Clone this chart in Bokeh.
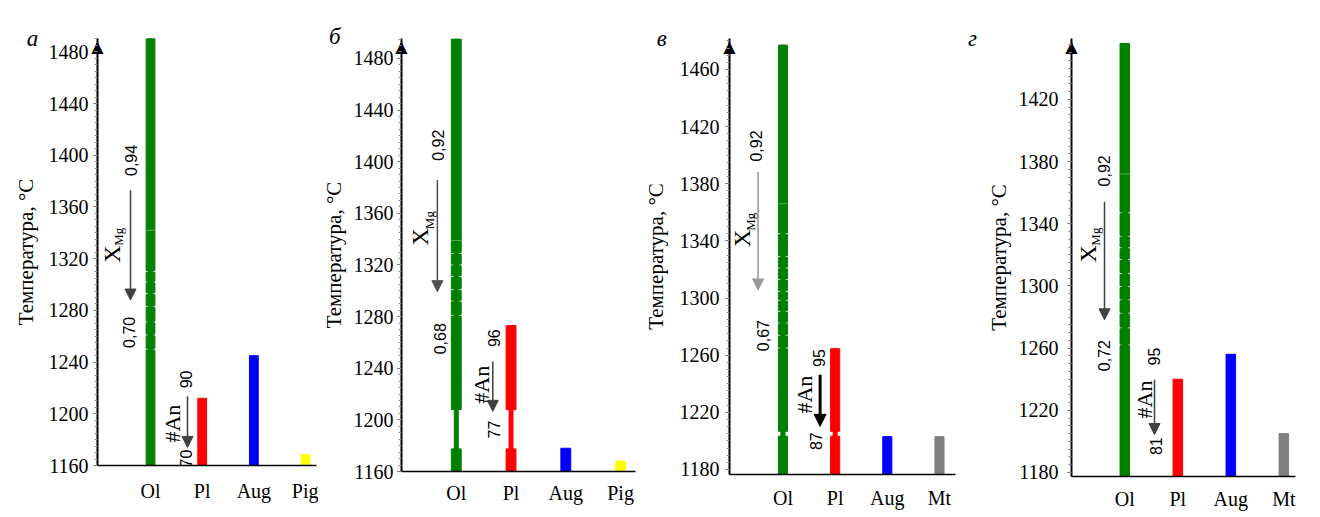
import math
from bokeh.plotting import figure
from bokeh.layouts import row
from bokeh.models import (FixedTicker, Arrow, NormalHead, Label, ColumnDataSource, Range1d,
                          LinearAxis)
from bokeh.core.properties import value
from bokeh.embed import file_html
from bokeh.resources import INLINE

SERIF = '"Liberation Serif", "Times New Roman", serif'
SANS = '"Liberation Sans", Arial, sans-serif'
COLORS = {"Ol": "#008000", "Pl": "#ff0000", "Aug": "#0000ff", "Pig": "#ffff00", "Mt": "#808080"}
Y_LABEL = "Температура, °C"

# ---------------- data ----------------
PANEL_LETTERS = ["а", "б", "в", "г"]

A_MINERALS = ["Ol", "Pl", "Aug", "Pig"]
A_TOPS = [1493, 1212, 1245, 1168.5]
A_YTICKS = [1160, 1200, 1240, 1280, 1320, 1360, 1400, 1440, 1480]
A_OL_NOTCHES = [1250, 1261, 1271, 1283, 1293, 1302, 1310]
A_OL_FAINT = [1342]
A_XMG = ["0,94", "0,70"]
A_AN = ["90", "70"]

B_MINERALS = ["Ol", "Pl", "Aug", "Pig"]
B_TOPS = [1495, 1273, 1178, 1168]
B_YTICKS = [1160, 1200, 1240, 1280, 1320, 1360, 1400, 1440, 1480]
B_OL_NOTCHES = [1281, 1292, 1301, 1311, 1320, 1329]
B_OL_FAINT = [1339]
B_NECK = [1177.5, 1208]
B_XMG = ["0,92", "0,68"]
B_AN = ["96", "77"]

C_MINERALS = ["Ol", "Pl", "Aug", "Mt"]
C_TOPS = [1477, 1264.5, 1203, 1203]
C_YTICKS = [1180, 1220, 1260, 1300, 1340, 1380, 1420, 1460]
C_OL_NOTCHES = [1265, 1274, 1282.5, 1290.5, 1298.5, 1304.5, 1313, 1321, 1329, 1345]
C_OL_FAINT = [1366]
C_NECK = [1203.3, 1206.7]
C_XMG = ["0,92", "0,67"]
C_AN = ["95", "87"]

D_MINERALS = ["Ol", "Pl", "Aug", "Mt"]
D_TOPS = [1456, 1240, 1256, 1205]
D_YTICKS = [1180, 1220, 1260, 1300, 1340, 1380, 1420]
D_OL_NOTCHES = [1262, 1273, 1282.5, 1291, 1299.5, 1308, 1317, 1324.5, 1332, 1347]
D_OL_FAINT = [1372]
D_XMG = ["0,92", "0,72"]
D_AN = ["95", "81"]

# ---------------- layout (pixel geometry, not data) ----------------
FRAME_TOP = 38
BORDER_BOTTOM = 38
LAYOUT = [
    dict(mbl=97, fw=219, mbr=2, bottom=466, y0=1160, scale=1.2956, x0=-0.026, unit=51.67,
         xstand=8, lstand=5, alstand=8, bw=0.17, letter=(32, 38)),
    dict(mbl=82, fw=235, mbr=5, bottom=472, y0=1160, scale=1.294, x0=0.0, unit=55.0,
         xstand=4, lstand=4, alstand=5, bw=0.18, letter=(333, 36)),
    dict(mbl=88, fw=227, mbr=10, bottom=475, y0=1176.5, scale=1.432, x0=-0.025, unit=52.4,
         xstand=6, lstand=6, alstand=9, bw=0.175, letter=(660, 38)),
    dict(mbl=106, fw=224, mbr=10, bottom=477, y0=1177.4, scale=1.558, x0=-0.006, unit=53.0,
         xstand=5, lstand=9, alstand=5, bw=0.18, letter=(972, 38)),
]
AXIS_PX = [97, 400, 728, 1071]

# annotation positions (data units) per panel
POS = [
    dict(hi=(0.613, 1396), lo=(0.580, 1263), X=(0.258, 1323.6), Mg=(0.39, 1337),
         xa=(0.613, 1373, 1288), ahi=(1.696, 1226.6), aa=(1.716, 1213.5, 1174), An=(1.435, 1192.4),
         alo=(1.696, 1165.4), xcol="#404040", acol="#404040", aw=1.5),
    dict(hi=(0.667, 1412.7), lo=(0.697, 1262.8), X=(0.345, 1341.8), Mg=(0.51, 1354.7),
         xa=(0.655, 1385.7, 1299.3), ahi=(1.682, 1263.3), aa=(1.667, 1245.2, 1206.6), An=(1.455, 1227.2),
         alo=(1.697, 1192.5), xcol="#505050", acol="#404040", aw=1.5),
    dict(hi=(0.49, 1406.4), lo=(0.618, 1273.7), X=(0.223, 1341.8), Mg=(0.37, 1353.4),
         xa=(0.523, 1388.3, 1305.7), ahi=(1.683, 1258), aa=(1.712, 1246.3, 1210.2), An=(1.412, 1232.4),
         alo=(1.635, 1199.8), xcol="#999999", acol="#000000", aw=3),
    dict(hi=(0.603, 1374), lo=(0.603, 1255.2), X=(0.296, 1320.6), Mg=(0.44, 1331.7),
         xa=(0.617, 1354.1, 1278.2), ahi=(1.56, 1254.6), aa=(1.56, 1239.7, 1204.4), An=(1.37, 1226.9),
         alo=(1.579, 1196.9), xcol="#404040", acol="#404040", aw=1.5),
]


def bar_pieces(bottom, top, notches, neck, gap):
    cuts = [(n - gap / 2, n + gap / 2) for n in notches]
    if neck:
        cuts.append((neck[0], neck[1]))
    cuts.sort()
    pieces = []
    start = bottom
    for lo, hi in cuts:
        pieces.append((start, lo))
        start = hi
    pieces.append((start, top))
    return pieces


def make_panel(i, minerals, tops, yticks, notches, faint, neck, neck_frac, xmg, an):
    L = LAYOUT[i]
    P = POS[i]
    x0, unit = L["x0"], L["unit"]
    x1 = x0 + L["fw"] / unit
    fh = L["bottom"] - FRAME_TOP
    y0 = L["y0"]
    y1 = y0 + fh / L["scale"]
    H = L["bottom"] + BORDER_BOTTOM
    p = figure(width=L["mbl"] + L["fw"] + L["mbr"], height=H,
               x_range=Range1d(x0, x1), y_range=Range1d(y0, y1),
               output_backend="svg", toolbar_location=None,
               min_border_left=L["mbl"], min_border_right=L["mbr"],
               min_border_top=FRAME_TOP, min_border_bottom=BORDER_BOTTOM)
    p.outline_line_color = None
    p.xgrid.visible = False
    p.ygrid.visible = False
    p.background_fill_color = "white"
    p.border_fill_color = "white"

    xs = [1, 2, 3, 4]
    p.xaxis.ticker = FixedTicker(ticks=xs)
    p.xaxis.major_label_overrides = {k: m for k, m in zip(xs, minerals)}
    p.xaxis.major_tick_line_color = None
    p.xaxis.minor_tick_line_color = None
    p.xaxis.axis_line_width = 1.5
    p.xaxis.axis_line_color = "black"
    p.xaxis.major_label_standoff = L["xstand"]
    p.xaxis.major_label_text_font = SERIF
    p.xaxis.major_label_text_font_size = "20px"
    p.xaxis.major_label_text_color = "black"

    minor = [t for t in range(yticks[0] - 40, int(y1) + 1, 5) if y0 <= t <= y1]
    p.yaxis.ticker = FixedTicker(ticks=yticks, minor_ticks=minor)
    p.yaxis.axis_line_width = 2
    p.yaxis.axis_line_color = "black"
    p.yaxis.major_tick_out = 4
    p.yaxis.major_tick_in = 0
    p.yaxis.minor_tick_out = 3
    p.yaxis.minor_tick_in = 0
    p.yaxis.major_tick_line_color = "#444444"
    p.yaxis.minor_tick_line_color = "#888888"
    p.yaxis.major_label_standoff = L["lstand"]
    p.yaxis.major_label_text_font = SERIF
    p.yaxis.major_label_text_font_size = "20px"
    p.yaxis.major_label_text_color = "black"
    p.yaxis.axis_label = Y_LABEL
    p.yaxis.axis_label_text_font = SERIF
    p.yaxis.axis_label_text_font_style = "normal"
    p.yaxis.axis_label_text_font_size = "21px"
    p.yaxis.axis_label_text_color = "black"
    p.yaxis.axis_label_standoff = L["alstand"]

    # arrow head on top of the temperature axis: an invisible "above" axis whose only
    # tick label is a triangle, pulled down onto the top end of the axis line
    t_head = x0 + 1e-6
    head_axis = LinearAxis(ticker=FixedTicker(ticks=[t_head], minor_ticks=[]),
                           major_label_overrides={t_head: "▲"},
                           axis_line_color=None, major_tick_line_color=None,
                           minor_tick_line_color=None, major_tick_out=0, major_tick_in=0,
                           minor_tick_out=0, minor_tick_in=0,
                           major_label_standoff=-17,
                           major_label_text_font="DejaVu Sans",
                           major_label_text_font_size="16px",
                           major_label_text_color="black")
    p.add_layout(head_axis, "above")

    bw = L["bw"]
    gap = 1.6 / L["scale"]
    xs_f, tops_f, bots_f, cols_f, ws_f = [], [], [], [], []
    conn_x, conn_t, conn_b, conn_c, conn_w = [], [], [], [], []
    for k, (m, t) in enumerate(zip(minerals, tops)):
        x = xs[k]
        nts = notches if m == "Ol" else []
        nk = neck if m in ("Ol", "Pl") else None
        pieces = bar_pieces(y0, t, nts, nk, gap)
        if len(pieces) > 1:
            frac = neck_frac if nk else 0.5
            conn_x.append(x); conn_t.append(t); conn_b.append(y0)
            conn_c.append(COLORS[m]); conn_w.append(bw * frac)
        for lo, hi in pieces:
            xs_f.append(x); bots_f.append(lo); tops_f.append(hi)
            cols_f.append(COLORS[m]); ws_f.append(bw)
    if conn_x:
        p.vbar(x="x", top="top", bottom="bottom", width="w", color="c",
               source=ColumnDataSource(dict(x=conn_x, top=conn_t, bottom=conn_b, c=conn_c, w=conn_w)))
    p.vbar(x="x", top="top", bottom="bottom", width="w", color="c",
           source=ColumnDataSource(dict(x=xs_f, top=tops_f, bottom=bots_f, c=cols_f, w=ws_f)))
    if faint:
        p.segment(x0=[1 - bw / 2] * len(faint), x1=[1 + bw / 2] * len(faint), y0=faint, y1=faint,
                  line_color="white", line_alpha=0.35, line_width=1)

    ang = math.pi / 2
    p.text(x=[P["hi"][0], P["lo"][0], P["ahi"][0], P["alo"][0]],
           y=[P["hi"][1], P["lo"][1], P["ahi"][1], P["alo"][1]],
           text=[xmg[0], xmg[1], an[0], an[1]], angle=ang,
           text_align="center", text_baseline="middle",
           text_font=value(SANS), text_font_size="16px", text_color="black")
    p.text(x=[P["X"][0]], y=[P["X"][1]], text=["X"], angle=ang,
           text_align="center", text_baseline="middle",
           text_font=value(SERIF), text_font_size="24px", text_color="black")
    p.text(x=[P["Mg"][0]], y=[P["Mg"][1]], text=["Mg"], angle=ang,
           text_align="center", text_baseline="middle",
           text_font=value(SERIF), text_font_size="13px", text_color="black")
    p.text(x=[P["An"][0]], y=[P["An"][1]], text=["#An"], angle=ang,
           text_align="center", text_baseline="middle",
           text_font=value(SERIF), text_font_size="22px", text_color="black")
    xa = P["xa"]
    p.add_layout(Arrow(end=NormalHead(size=11, fill_color=P["xcol"], line_color=P["xcol"]),
                       x_start=xa[0], y_start=xa[1], x_end=xa[0], y_end=xa[2],
                       line_color=P["xcol"], line_width=1.5))
    aa = P["aa"]
    p.add_layout(Arrow(end=NormalHead(size=12 if P["aw"] > 2 else 11, fill_color=P["acol"], line_color=P["acol"]),
                       x_start=aa[0], y_start=aa[1], x_end=aa[0], y_end=aa[2],
                       line_color=P["acol"], line_width=P["aw"]))

    lpx, lpy = L["letter"]
    lx = x0 + (lpx - AXIS_PX[i]) / unit
    ly = y0 + (L["bottom"] - lpy) / L["scale"]
    p.add_layout(Label(x=lx, y=ly, text=PANEL_LETTERS[i],
                       text_align="center", text_baseline="middle",
                       text_font=SERIF, text_font_style="italic", text_font_size="23px",
                       text_color="black"), "above")
    return p


pa = make_panel(0, A_MINERALS, A_TOPS, A_YTICKS, A_OL_NOTCHES, A_OL_FAINT, None, 0.5, A_XMG, A_AN)
pb = make_panel(1, B_MINERALS, B_TOPS, B_YTICKS, B_OL_NOTCHES, B_OL_FAINT, B_NECK, 0.4, B_XMG, B_AN)
pc = make_panel(2, C_MINERALS, C_TOPS, C_YTICKS, C_OL_NOTCHES, C_OL_FAINT, C_NECK, 0.45, C_XMG, C_AN)
pd = make_panel(3, D_MINERALS, D_TOPS, D_YTICKS, D_OL_NOTCHES, D_OL_FAINT, None, 0.5, D_XMG, D_AN)

layout = row(pa, pb, pc, pd, spacing=0)
open("out.html", "w").write(file_html(layout, INLINE))
